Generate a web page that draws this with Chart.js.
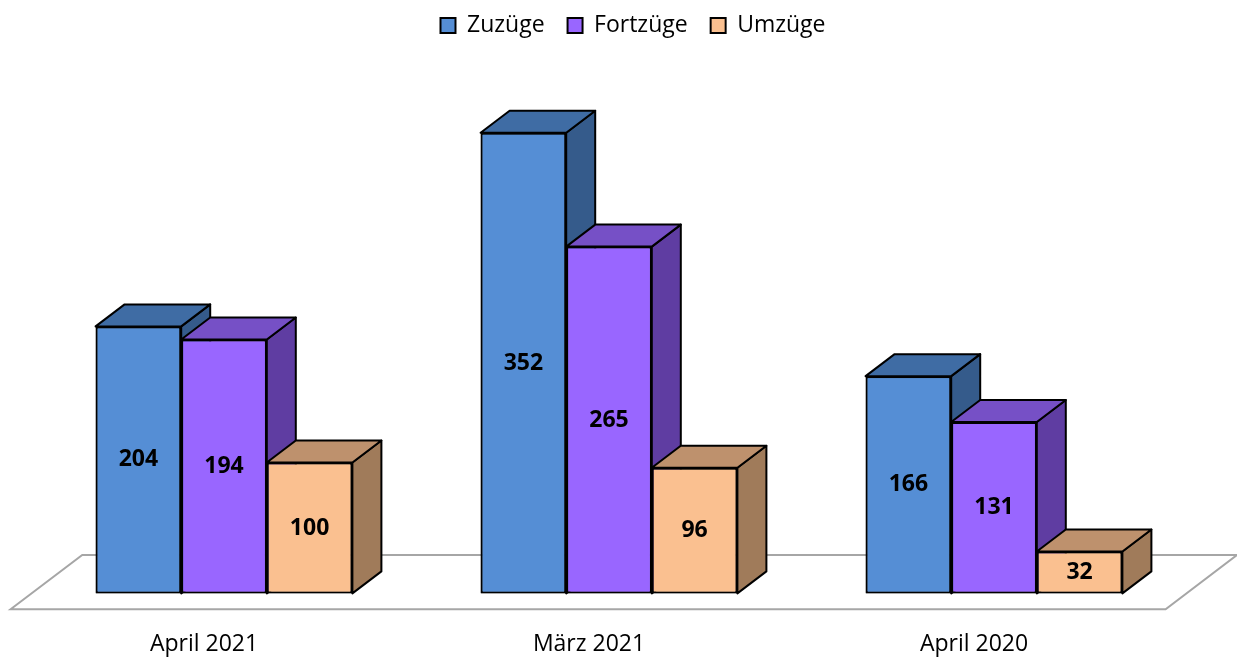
<!DOCTYPE html>
<html>
<head>
<meta charset="utf-8">
<script src="https://cdn.jsdelivr.net/npm/chart.js@4.4.0/dist/chart.umd.min.js"></script>
<style>
  html, body { margin: 0; padding: 0; background: #fff; }
</style>
</head>
<body>
<canvas id="chart" width="1237" height="659"></canvas>
<script>
// Daten
const categories = ['April 2021', 'März 2021', 'April 2020'];
const seriesNames = ['Zuzüge', 'Fortzüge', 'Umzüge'];
const zuzuege = [204, 352, 166];
const fortzuege = [194, 265, 131];
const umzuege = [100, 96, 32];

// Farben: Vorderseite, Oberseite, Seitenfläche
const frontColors = ['#558ED5', '#9966FF', '#FAC090'];
const topColors = ['#3F6CA4', '#7650C6', '#BE916D'];
const sideColors = ['#355B8B', '#5F3DA2', '#A07B5A'];

// Tiefe der Säulen (3D-Effekt)
const depth = { dx: 29, dy: -22 };

Chart.defaults.font.family = "'Open Sans', sans-serif";
Chart.defaults.color = '#000';

// Plugin für Boden, Seiten- und Oberflächen und Beschriftungen
const bars3d = {
  id: 'bars3d',
  afterLayout(chart) {
    // Legende etwas nach rechts schieben
    chart.legend.left += 24;
    chart.legend.right += 24;
  },
  beforeDatasetsDraw(chart) {
    const { ctx, chartArea: a } = chart;
    const f = -0.72, b = 1.75;
    ctx.save();
    ctx.beginPath();
    ctx.moveTo(a.left + depth.dx * f, a.bottom + depth.dy * f);
    ctx.lineTo(a.left + depth.dx * b, a.bottom + depth.dy * b);
    ctx.lineTo(a.right + depth.dx * b, a.bottom + depth.dy * b);
    ctx.lineTo(a.right + depth.dx * f, a.bottom + depth.dy * f);
    ctx.closePath();
    ctx.fillStyle = '#fff';
    ctx.fill();
    ctx.strokeStyle = '#A6A6A6';
    ctx.lineWidth = 2;
    ctx.stroke();
    ctx.restore();
  },
  afterDatasetsDraw(chart) {
    const ctx = chart.ctx;
    const n = chart.data.datasets.length;
    ctx.save();
    ctx.lineJoin = 'round';
    for (let i = 0; i < categories.length; i++) {
      for (let d = 0; d < n; d++) {
        const el = chart.getDatasetMeta(d).data[i];
        const x0 = el.x - el.width / 2;
        const x1 = el.x + el.width / 2;
        const y0 = el.y;
        const y1 = el.base;
        // Seitenfläche
        ctx.beginPath();
        ctx.moveTo(x1, y0);
        ctx.lineTo(x1 + depth.dx, y0 + depth.dy);
        ctx.lineTo(x1 + depth.dx, y1 + depth.dy);
        ctx.lineTo(x1, y1);
        ctx.closePath();
        ctx.fillStyle = sideColors[d];
        ctx.fill();
        ctx.strokeStyle = '#000';
        ctx.lineWidth = 2;
        ctx.stroke();
        // Oberseite
        ctx.beginPath();
        ctx.moveTo(x0, y0);
        ctx.lineTo(x0 + depth.dx, y0 + depth.dy);
        ctx.lineTo(x1 + depth.dx, y0 + depth.dy);
        ctx.lineTo(x1, y0);
        ctx.closePath();
        ctx.fillStyle = topColors[d];
        ctx.fill();
        ctx.stroke();
        // Vorderseite neu zeichnen
        el.draw(ctx);
      }
    }
    // Werte
    ctx.font = "bold 23px 'Open Sans', sans-serif";
    ctx.fillStyle = '#000';
    ctx.textAlign = 'center';
    ctx.textBaseline = 'middle';
    chart.data.datasets.forEach((ds, d) => {
      chart.getDatasetMeta(d).data.forEach((el, i) => {
        ctx.fillText(String(ds.data[i]), el.x, (el.y + el.base) / 2);
      });
    });
    ctx.restore();
  }
};

const dataSeries = [zuzuege, fortzuege, umzuege];

new Chart(document.getElementById('chart'), {
  type: 'bar',
  data: {
    labels: categories,
    datasets: dataSeries.map((values, d) => ({
      label: seriesNames[d],
      data: values,
      backgroundColor: frontColors[d],
      borderColor: '#000',
      borderWidth: 2,
      borderSkipped: false
    }))
  },
  options: {
    responsive: false,
    animation: false,
    categoryPercentage: 0.667,
    barPercentage: 1,
    layout: {
      padding: { top: -9, left: 31.5, right: 50.5, bottom: -36 }
    },
    plugins: {
      legend: {
        position: 'top',
        labels: {
          boxWidth: 15,
          boxHeight: 15,
          padding: 23,
          font: { size: 23 },
          color: '#000'
        }
      },
      tooltip: { enabled: false }
    },
    scales: {
      x: {
        grid: { display: false, drawTicks: false },
        border: { display: false },
        ticks: { padding: 37, labelOffset: -20, font: { size: 23 }, color: '#000' }
      },
      y: {
        display: false,
        min: 0,
        max: 417.5
      }
    }
  },
  plugins: [bars3d]
});
</script>
</body>
</html>
